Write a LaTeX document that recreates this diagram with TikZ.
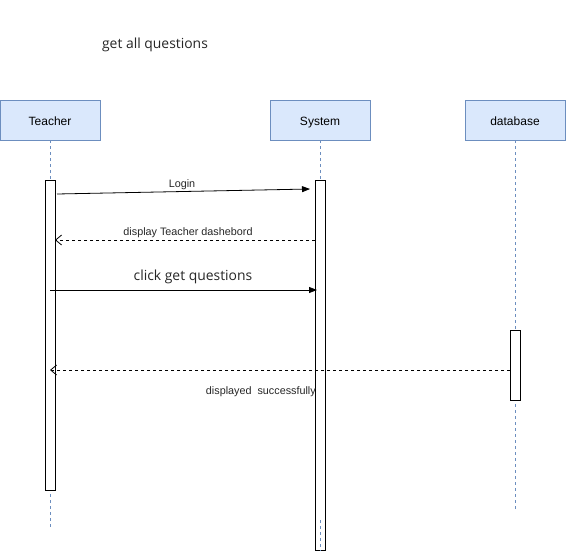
\documentclass[tikz,border=0pt]{standalone}
\usepackage{fontspec}
\setmainfont{Liberation Sans}
\newfontfamily\titlefont{Open Sans}
\usetikzlibrary{arrows.meta}
\definecolor{boxfill}{HTML}{DAE8FC}
\definecolor{boxline}{HTML}{6C8EBF}
\begin{document}
\begin{tikzpicture}[x=1pt,y=-1pt,
  actor/.style={draw=boxline,fill=boxfill,minimum width=100pt,minimum height=40pt,font=\fontsize{12}{14}\selectfont,inner sep=0pt,text height=12.6pt,text depth=2.5pt},
  life/.style={draw=boxline,dashed,dash pattern=on 3pt off 3pt,line width=0.6pt},
  act/.style={draw=black,fill=white,line width=0.8pt,minimum width=10pt,inner sep=0pt},
  msg/.style={line width=0.8pt,-{Triangle[length=8pt,width=6pt]}},
  ret/.style={line width=0.8pt,dashed,dash pattern=on 3pt off 3pt,-{Straight Barb[length=6pt,width=10pt]}},
  lbl/.style={font=\fontsize{10.8}{12}\selectfont,text=black!85,inner sep=1pt},
  big/.style={font=\titlefont\fontsize{13.9}{16}\selectfont,text=black!85,inner sep=1pt}]
\useasboundingbox (0,0) rectangle (566,552);
\node[big] (title) at (155,45) {get all questions};
\node[actor] (teacher) at (50,120) {Teacher};
\node[actor] (system) at (320,120) {System};
\node[actor] (db) at (515,120) {database};
\coordinate (tend) at (50,527);
\coordinate (send) at (320,550);
\coordinate (dend) at (515,510);
\draw[life] (teacher.south) -- (tend);
\draw[life] (system.south) -- (send);
\draw[life] (db.south) -- (dend);
\node[act,minimum height=310pt] (ta) at (50,335) {};
\node[act,minimum height=370pt] (sa) at (320,365) {};
\node[act,minimum height=70pt] (da) at (515,365) {};
\draw[life] (320,520) -- (sa.south);
\coordinate (l1) at (57,194);
\coordinate (l2) at (310,189);
\draw[msg] (l1) -- (l2);
\node[lbl] (login) at (182,185) {Login};
\coordinate (r1) at (315,240);
\coordinate (r2) at (55,240);
\draw[ret] (r1) -- (r2);
\node[lbl] (dtd) at (188,233) {display Teacher dashebord};
\coordinate (c1) at (50,290);
\coordinate (c2) at (317,290);
\draw[msg] (c1) -- (c2);
\node[big] (cgq) at (193,277) {click get questions};
\coordinate (d1) at (510,370);
\coordinate (d2) at (50,370);
\draw[ret] (d1) -- (d2);
\node[lbl,anchor=east] (ds) at (317,392) {displayed\ \ successfully};
\end{tikzpicture}
\end{document}
